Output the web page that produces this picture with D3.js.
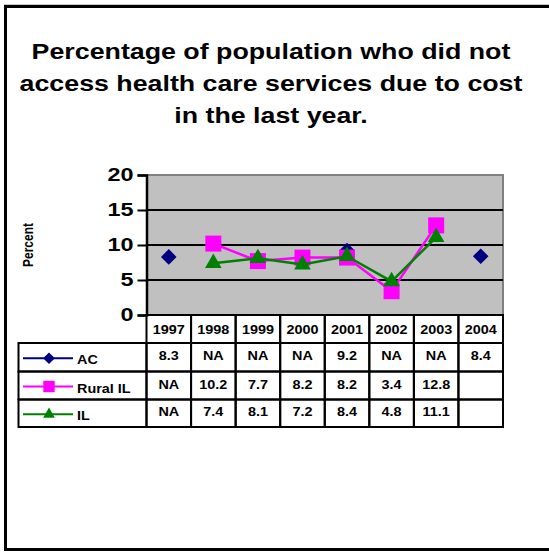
<!DOCTYPE html>
<html>
<head>
<meta charset="utf-8">
<script src="https://cdn.jsdelivr.net/npm/d3@7"></script>
<style>
  html, body { margin: 0; padding: 0; overflow: hidden; background: #fff; }
  svg { display: block; }
  text { font-family: "Liberation Sans", Arial, sans-serif; font-weight: bold; }
</style>
</head>
<body>
<script>
// chart data
var years = ["1997", "1998", "1999", "2000", "2001", "2002", "2003", "2004"];
var acValues = [8.3, null, null, null, 9.2, null, null, 8.4];
var ruralValues = [null, 10.2, 7.7, 8.2, 8.2, 3.4, 12.8, undefined];
var ilValues = [null, 7.4, 8.1, 7.2, 8.4, 4.8, 11.1, undefined];
var seriesNames = ["AC", "Rural IL", "IL"];
var seriesColors = ["#000080", "#FF00FF", "#008000"];
var yTicks = [0, 5, 10, 15, 20];
var titleLines = ["Percentage of population who did not",
                  "access health care services due to cost",
                  "in the last year."];

var allSeries = [acValues, ruralValues, ilValues];
var stretch = 1.2; // the original picture is a bit wider than tall

var svg = d3.select("body").append("svg")
    .attr("width", 549)
    .attr("height", 552);

// outer frame: top, left and bottom only (right side runs off the picture)
svg.append("path")
    .attr("d", "M560,6.5H5.5V549.5H560")
    .attr("fill", "none")
    .attr("stroke", "#000")
    .attr("stroke-width", 3);
svg.append("line")
    .attr("x1", 4).attr("x2", 549).attr("y1", 4.5).attr("y2", 4.5)
    .attr("stroke", "#c8c8c8").attr("stroke-width", 1);

// title
svg.append("g").selectAll("text")
    .data(titleLines)
    .enter()
    .append("text")
    .attr("transform", function(d, i) {
      return "translate(271," + (59 + i * 32) + ") scale(1.19,1)";
    })
    .attr("text-anchor", "middle")
    .style("font-size", "22.5px")
    .text(function(d) { return d; });

// scales
var x = d3.scaleBand().domain(years).range([146.5, 503]);
var y = d3.scaleLinear().domain([0, 20]).range([315, 175]);

// plot area
svg.append("rect")
    .attr("x", x.range()[0]).attr("y", y(20))
    .attr("width", x.range()[1] - x.range()[0])
    .attr("height", y(0) - y(20))
    .attr("fill", "#c0c0c0");

svg.append("path")
    .attr("d", "M" + x.range()[0] + "," + y(20) + "H" + x.range()[1] + "V" + y(0))
    .attr("fill", "none")
    .attr("stroke", "#808080")
    .attr("stroke-width", 2);

svg.append("g").selectAll("line")
    .data(yTicks.filter(function(d) { return d > 0 && d < 20; }))
    .enter()
    .append("line")
    .attr("x1", x.range()[0]).attr("x2", x.range()[1])
    .attr("y1", function(d) { return y(d); })
    .attr("y2", function(d) { return y(d); })
    .attr("stroke", "#000")
    .attr("stroke-width", 2);

// y axis
var yAxis = svg.append("g")
    .attr("transform", "translate(" + x.range()[0] + ",0)")
    .call(d3.axisLeft(y).tickValues(yTicks).tickSize(9).tickPadding(4));
yAxis.select(".domain").attr("stroke-width", 2.5);
yAxis.selectAll(".tick line").attr("stroke-width", 2);
yAxis.selectAll(".tick text")
    .attr("x", -13 / 1.3)
    .attr("transform", "scale(1.3,1)")
    .style("font-size", "18px")
    .style("font-family", "'Liberation Sans', Arial, sans-serif")
    .style("font-weight", "bold");

svg.append("text")
    .attr("transform", "translate(33,245) rotate(-90) scale(1," + stretch + ")")
    .attr("text-anchor", "middle")
    .style("font-size", "12px")
    .text("Percent");

// marker shapes
var symbols = [d3.symbolSquare, d3.symbolSquare, d3.symbolTriangle];
var symbolSizes = [121, 256, 120];
var keySizes = [68, 130, 60];
var symbolRotate = [45, 0, 0];

allSeries.forEach(function(values, s) {
  var pts = years.map(function(yr, i) { return { year: yr, v: values[i] }; });
  var line = d3.line()
      .defined(function(d) { return d.v != null; })
      .x(function(d) { return x(d.year) + x.bandwidth() / 2; })
      .y(function(d) { return y(d.v); });
  if (s > 0) {
    svg.append("path")
        .datum(pts)
        .attr("d", line)
        .attr("fill", "none")
        .attr("stroke", seriesColors[s])
        .attr("stroke-width", 2.5);
  }
  svg.append("g").selectAll("path")
      .data(pts.filter(function(d) { return d.v != null; }))
      .enter()
      .append("path")
      .attr("transform", function(d) {
        return "translate(" + (x(d.year) + x.bandwidth() / 2) + "," + y(d.v) + ") rotate(" + symbolRotate[s] + ")";
      })
      .attr("d", d3.symbol().type(symbols[s]).size(symbolSizes[s]))
      .attr("fill", seriesColors[s]);
});

// data table
var rowTop = [315, 343, 371.5, 399.5];
var tableBottom = 427;
var legendLeft = 18.5;
var table = svg.append("g").attr("stroke", "#000").attr("stroke-width", 2).attr("fill", "none");

// header row cells
years.forEach(function(yr) {
  table.append("rect")
      .attr("x", x(yr)).attr("y", rowTop[0])
      .attr("width", x.bandwidth()).attr("height", rowTop[1] - rowTop[0]);
});
// series rows
seriesNames.forEach(function(name, s) {
  var top = rowTop[s + 1];
  var bottom = s < 2 ? rowTop[s + 2] : tableBottom;
  table.append("rect")
      .attr("x", legendLeft).attr("y", top)
      .attr("width", x.range()[0] - legendLeft).attr("height", bottom - top);
  years.forEach(function(yr) {
    table.append("rect")
        .attr("x", x(yr)).attr("y", top)
        .attr("width", x.bandwidth()).attr("height", bottom - top);
  });
});

function cellText(g, px, py, str, anchor) {
  g.append("text")
      .attr("transform", "translate(" + px + "," + py + ") scale(" + stretch + ",1)")
      .attr("text-anchor", anchor)
      .style("font-size", "12px")
      .text(str);
}

var header = svg.append("g");
years.forEach(function(yr) {
  cellText(header, x(yr) + x.bandwidth() / 2, (rowTop[0] + rowTop[1]) / 2 + 4.5, yr, "middle");
});

seriesNames.forEach(function(name, s) {
  var top = rowTop[s + 1];
  var bottom = s < 2 ? rowTop[s + 2] : tableBottom;
  var mid = (top + bottom) / 2;
  var values = allSeries[s];
  var g = svg.append("g");

  years.forEach(function(yr, i) {
    var v = values[i];
    if (v === undefined) return;
    cellText(g, x(yr) + x.bandwidth() / 2, mid + 3, v === null ? "NA" : v.toFixed(1), "middle");
  });

  // legend key
  svg.append("line")
      .attr("x1", 23).attr("x2", 73)
      .attr("y1", mid + 1).attr("y2", mid + 1)
      .attr("stroke", seriesColors[s])
      .attr("stroke-width", 2);
  svg.append("path")
      .attr("transform", "translate(49," + (mid + 1) + ") rotate(" + symbolRotate[s] + ")")
      .attr("d", d3.symbol().type(symbols[s]).size(keySizes[s]))
      .attr("fill", seriesColors[s]);
  cellText(g, 77, mid + 7, name, "start");
});
</script>
</body>
</html>
